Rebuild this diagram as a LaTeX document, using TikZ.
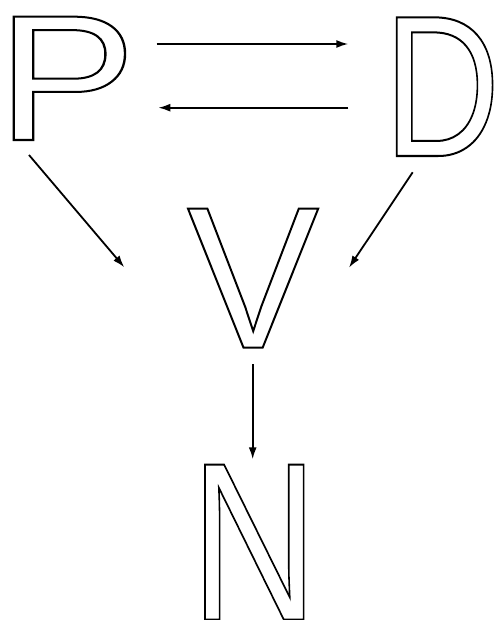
\documentclass[tikz,border=0pt]{standalone}
\usepackage{fontspec}
\setmainfont{Liberation Sans}
\usetikzlibrary{arrows.meta}
\newcommand\hollowtext[1]{\special{pdf:literal direct 1 Tr 2 w}#1\special{pdf:literal direct 0 Tr}}
% #1 font size, #2 x-scale, #3 left bearing (units/2048), #4 ink width (units/2048), #5 letter
\newcommand\bigletter[5]{\scalebox{#2}[1]{\fontsize{#1}{#1}\selectfont
  \makebox[\dimexpr #1*#4/2048\relax][l]{\hspace{-\dimexpr #1*#3/2048\relax}\hollowtext{#5}}}}
\tikzset{
  letter/.style={anchor=base west, inner sep=0pt, outer sep=0pt},
  conn/.style={line width=1.8pt, -{Latex[length=12pt,width=8pt]}}
}
\begin{document}
\begin{tikzpicture}[x=1pt,y=-1pt]
\useasboundingbox (0,0) rectangle (493,620);
\node[letter] (P) at (12.7,140) {\bigletter{179.2pt}{1.167}{158}{1110}{P}};
\node[letter] (D) at (396,156) {\bigletter{201.6pt}{0.802}{158}{1212}{D}};
\node[letter] (V) at (188,347.7) {\bigletter{202pt}{0.979}{9}{1344}{V}};
\node[letter] (N) at (204,619.5) {\bigletter{225pt}{0.784}{156}{1167}{N}};
\coordinate (pd1) at (156.7,44);
\coordinate (pd2) at (348.3,44);
\coordinate (dp1) at (348.3,107.7);
\coordinate (dp2) at (158.3,107.7);
\coordinate (pv1) at (29,155);
\coordinate (pv2) at (124.3,267.3);
\coordinate (dv1) at (412.7,172.3);
\coordinate (dv2) at (349,267.7);
\coordinate (vn1) at (252.7,364);
\coordinate (vn2) at (252.7,459.3);
\draw[conn] (pd1) -- (pd2);
\draw[conn] (dp1) -- (dp2);
\draw[conn] (pv1) -- (pv2);
\draw[conn] (dv1) -- (dv2);
\draw[conn] (vn1) -- (vn2);
\end{tikzpicture}
\end{document}
